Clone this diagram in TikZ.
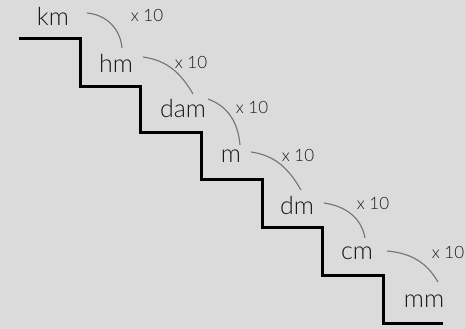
\documentclass[tikz,border=0pt]{standalone}
\usepackage{fontspec}
\setmainfont{Lato Light}
\begin{document}
\begin{tikzpicture}[x=1pt,y=-1pt,
  unit/.style={inner sep=0pt, font=\fontsize{25}{26}\selectfont, text=black!90},
  factor/.style={inner sep=0pt, font=\fontsize{17}{18}\selectfont, text=black!90},
  arc/.style={draw=black!55, line width=1.1pt},
  stair/.style={draw=black, line width=3pt, line join=miter}]
\fill[black!14] (0,0) rectangle (466,329);
\useasboundingbox (0,0) rectangle (466,329);
% staircase
\draw[stair] (19,39) -- (80,39) -- (80,87) -- (140,87) -- (140,132) -- (201,132)
  -- (201,179) -- (262,179) -- (262,227) -- (322,227) -- (322,275) -- (383,275)
  -- (383,323) -- (443,323);
% units
\node[unit] (km)  at (53,16)  {km};
\node[unit] (hm)  at (116,63) {hm};
\node[unit] (dam) at (183,109) {dam};
\node[unit] (m)   at (231,156) {m};
\node[unit] (dm)  at (297,205) {dm};
\node[unit] (cm)  at (357,253) {cm};
\node[unit] (mm)  at (424,301) {mm};
% factors
\node[factor] (f1) at (147,15)  {x 10};
\node[factor] (f2) at (191,62)  {x 10};
\node[factor] (f3) at (252,107) {x 10};
\node[factor] (f4) at (298,155) {x 10};
\node[factor] (f5) at (373,203) {x 10};
\node[factor] (f6) at (448,252) {x 10};
% arc endpoints
\coordinate (a1) at (87,13);   \coordinate (b1) at (122,48);
\coordinate (a2) at (143,57);  \coordinate (b2) at (193,94);
\coordinate (a3) at (208,99);  \coordinate (b3) at (240,145);
\coordinate (a4) at (251,152); \coordinate (b4) at (301,190);
\coordinate (a5) at (324,203); \coordinate (b5) at (365,238);
\coordinate (a6) at (387,251); \coordinate (b6) at (438,282);
\draw[arc] (a1) to[out=-5,in=95] (b1);
\draw[arc] (a2) to[out=-8,in=120] (b2);
\draw[arc] (a3) to[out=-20,in=95] (b3);
\draw[arc] (a4) to[out=-8,in=120] (b4);
\draw[arc] (a5) to[out=-8,in=100] (b5);
\draw[arc] (a6) to[out=-5,in=120] (b6);
\end{tikzpicture}
\end{document}
